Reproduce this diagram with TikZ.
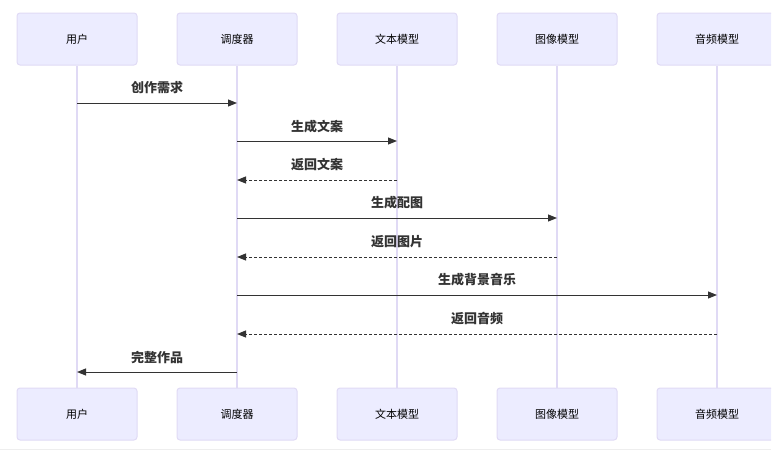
\documentclass[tikz,border=0pt]{standalone}
\usepackage{fontspec}
\setmainfont{Noto Sans CJK SC}
\usetikzlibrary{arrows.meta}
\definecolor{boxfill}{HTML}{ECECFF}
\definecolor{boxline}{HTML}{E0DAF5}
\definecolor{life}{HTML}{E0DAF5}
\definecolor{msg}{HTML}{333333}
\definecolor{botgray}{HTML}{EEEEEE}
\tikzset{
  actor/.style={draw=boxline, fill=boxfill, rounded corners=3pt, line width=1pt, minimum width=120pt, minimum height=52pt, inner sep=0pt, font=\fontsize{11pt}{13pt}\selectfont, text=black},
  lifeline/.style={draw=life, line width=1.5pt},
  call/.style={draw=msg, line width=1pt, -{Triangle[length=9pt,width=7pt]}},
  reply/.style={call, dash pattern=on 3pt off 2pt},
  lbl/.style={font=\fontsize{13pt}{15pt}\selectfont\bfseries, text=msg, inner sep=0pt}
}
\begin{document}
\begin{tikzpicture}[x=1pt,y=-1pt]
\useasboundingbox (0,0) rectangle (783,450);
\draw[draw=botgray, line width=1pt] (0,449) -- (771,449);
\begin{scope}
\clip (0,0) rectangle (771,450);
% top actors
\node[actor] (u1) at (77,39) {用户};
\node[actor] (s1) at (237,39) {调度器};
\node[actor] (t1) at (397,39) {文本模型};
\node[actor] (i1) at (557,39) {图像模型};
\node[actor] (a1) at (717,39) {音频模型};
% bottom actors
\node[actor] (u2) at (77,414) {用户};
\node[actor] (s2) at (237,414) {调度器};
\node[actor] (t2) at (397,414) {文本模型};
\node[actor] (i2) at (557,414) {图像模型};
\node[actor] (a2) at (717,414) {音频模型};
\end{scope}
% lifelines
\foreach \n in {u,s,t,i,a} {\draw[lifeline] (\n1.south) -- (\n2.north);}
% message anchor coordinates
\coordinate (u103) at (77,103);  \coordinate (s103) at (237,103);
\coordinate (s141) at (237,141); \coordinate (t141) at (397,141);
\coordinate (t180) at (397,180); \coordinate (s180) at (237,180);
\coordinate (s218) at (237,218); \coordinate (i218) at (557,218);
\coordinate (i257) at (557,257); \coordinate (s257) at (237,257);
\coordinate (s295) at (237,295); \coordinate (a295) at (717,295);
\coordinate (a334) at (717,334); \coordinate (s334) at (237,334);
\coordinate (s372) at (237,372); \coordinate (u372) at (77,372);
\draw[call] (u103) -- (s103);
\draw[call] (s141) -- (t141);
\draw[reply] (t180) -- (s180);
\draw[call] (s218) -- (i218);
\draw[reply] (i257) -- (s257);
\draw[call] (s295) -- (a295);
\draw[reply] (a334) -- (s334);
\draw[call] (s372) -- (u372);
\node[lbl] (m1) at (157,88) {创作需求};
\node[lbl] (m2) at (317,127) {生成文案};
\node[lbl] (m3) at (317,165) {返回文案};
\node[lbl] (m4) at (397,203) {生成配图};
\node[lbl] (m5) at (397,242) {返回图片};
\node[lbl] (m6) at (477,280) {生成背景音乐};
\node[lbl] (m7) at (477,319) {返回音频};
\node[lbl] (m8) at (157,357) {完整作品};
\end{tikzpicture}
\end{document}
